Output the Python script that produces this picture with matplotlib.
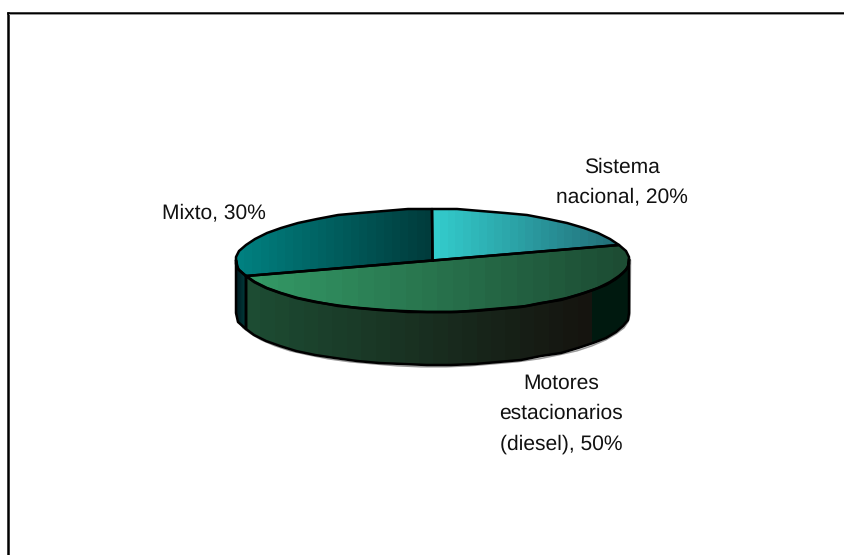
import matplotlib
matplotlib.use("Agg")
import matplotlib.pyplot as plt
from matplotlib.colors import LinearSegmentedColormap as cmap
from matplotlib.patches import Polygon
import numpy as np

plt.rcParams["font.family"] = ["Liberation Sans", "DejaVu Sans"]
plt.rcParams["text.hinting"] = "none"
plt.rcParams["text.hinting_factor"] = 1

labels = ["Sistema\nnacional, 20%", "Motores\nestacionarios\n(diesel), 50%", "Mixto, 30%"]
values = [20, 50, 30]
label_pos = [(622, 182), (561, 413.5), (214, 213)]

# colours of each slice, left to right
top_colors = [("#33cccc", "#226e78"), ("#339966", "#1d4c33"), ("#008080", "#003c3c")]
wall_colors = [("#1d4c33", "#15140f"), ("#003c3c", "#001a20")]

cx, cy = 432.5, 260.5
rx, ry = 196.5, 51.5
depth = 53
band_x = 592


def rim(start, stop, step = 7):
    # points on the ellipse, angles clockwise from 12 o'clock
    n = max(int(abs(stop - start) / step), 2)
    t = np.radians(np.linspace(start, stop, n + 1))
    return np.column_stack((np.round(cx + rx * np.sin(t)), np.round(cy - ry * np.cos(t))))


def shade(ax, pts, c0, c1, x0 = None, x1 = None):
    # horizontal gradient in coarse bands, clipped to the polygon
    x0 = pts[:, 0].min() if x0 is None else x0
    x1 = pts[:, 0].max() if x1 is None else x1
    y0, y1 = pts[:, 1].min(), pts[:, 1].max()
    grad = np.linspace(0, 1, 24).reshape(1, -1)
    im = ax.imshow(grad, cmap = cmap.from_list("g", [c0, c1]), aspect = "auto",
                   extent = [x0, x1, y1, y0], interpolation = "nearest", zorder = 2)
    poly = Polygon(pts, closed = True, fc = "none", ec = "none", transform = ax.transData)
    ax.add_patch(poly)
    im.set_clip_path(poly)


def outline(ax, pts, closed = True):
    if closed:
        pts = np.vstack((pts, pts[:1]))
    ax.plot(pts[:, 0], pts[:, 1], c = "black", lw = 1.8, zorder = 4, solid_joinstyle = "round")


fig = plt.figure(figsize = (8.44, 5.55), dpi = 100)
ax = fig.add_axes([0, 0, 1, 1])
ax.axis("off")

# frame, only top and left edges fall inside the image
ax.plot([7.5, 7.5], [555, 12.5], c = "black", lw = 1.8, zorder = 1)
ax.plot([7.5, 844], [12.5, 12.5], c = "black", lw = 1.8, zorder = 1)
ax.plot([9, 844], [14.3, 14.3], c = "#999999", lw = 0.7, zorder = 1)

ends = np.cumsum(values) * 3.6
starts = np.concatenate(([0], ends[:-1]))

# walls, front half of the cylinder only
b_mix = ends[1]
mix_rim = rim(b_mix, 270)
mix_wall = np.vstack((mix_rim, mix_rim[::-1] + [0, depth]))
diesel_rim = rim(90, b_mix)
diesel_wall = np.vstack((diesel_rim, diesel_rim[::-1] + [0, depth]))

# grey lip under the wall and down the right side
lip = np.vstack(([[630.5, cy]], rim(90, 270) + [1, depth + 1.8]))
ax.plot(lip[:, 0], lip[:, 1], c = "#9a9a9a", lw = 1.1, zorder = 1.5)

shade(ax, diesel_wall, wall_colors[0][0], wall_colors[0][1], x1 = band_x)
shade(ax, diesel_wall, "#00190f", "#00190f", x0 = band_x)
shade(ax, mix_wall, wall_colors[1][1], wall_colors[1][0])
outline(ax, diesel_wall)
outline(ax, mix_wall)

# top faces
for i in range(len(values)):
    shade(ax, np.vstack(([[cx, cy]], rim(starts[i], ends[i]))), top_colors[i][0], top_colors[i][1])
for i in range(len(values)):
    outline(ax, np.vstack(([[cx, cy]], rim(starts[i], ends[i]))))

for txt, (x, y) in zip(labels, label_pos):
    ax.text(x, y, txt, ha = "center", va = "center", fontsize = 15.25, color = "#111111",
            linespacing = 1.7, zorder = 5)

ax.set_xlim(0, 844)
ax.set_ylim(555, 0)
fig.savefig("out.png", dpi = 100, facecolor = "white")
